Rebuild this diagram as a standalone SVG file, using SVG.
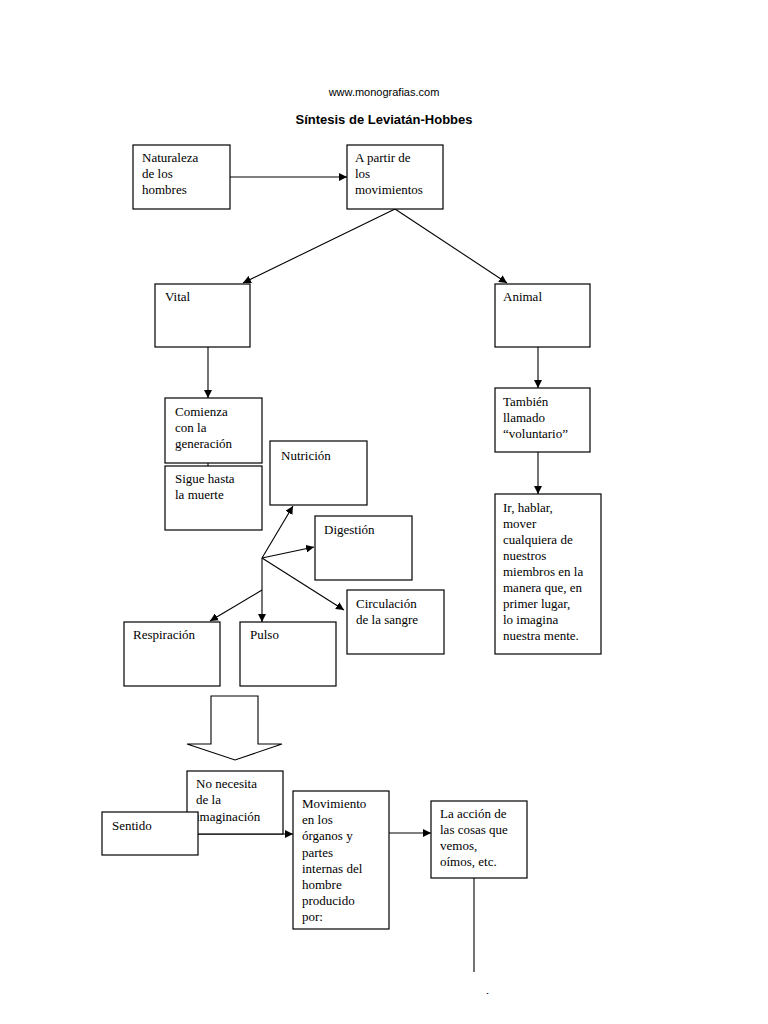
<svg xmlns="http://www.w3.org/2000/svg" width="768" height="1024" viewBox="0 0 768 1024">
<style>
.b{fill:#fff;stroke:#000;stroke-width:1.2}
.t{font-family:"Liberation Serif",serif;font-size:13px;fill:#000}
.c line,.c path{stroke:#000;stroke-width:1.1;fill:none}
</style>
<defs>
<marker id="a" viewBox="0 0 10 10" refX="10" refY="5" markerWidth="8" markerHeight="8" orient="auto" markerUnits="userSpaceOnUse"><path d="M0,0L10,5L0,10z" fill="#000"/></marker>
<clipPath id="cut"><rect x="0" y="0" width="768" height="994"/></clipPath>
</defs>
<rect width="768" height="1024" fill="#fff"/>
<text x="384" y="96" text-anchor="middle" font-family="Liberation Sans,sans-serif" font-size="11">www.monografias.com</text>
<text x="384" y="124" text-anchor="middle" font-family="Liberation Sans,sans-serif" font-size="13" font-weight="bold">Síntesis de Leviatán-Hobbes</text>
<g class="c">
<line x1="230" y1="177" x2="347" y2="177" marker-end="url(#a)"/>
<line x1="395" y1="209" x2="243" y2="283" marker-end="url(#a)"/>
<line x1="395" y1="209" x2="507" y2="283" marker-end="url(#a)"/>
<line x1="208" y1="347" x2="208" y2="398" marker-end="url(#a)"/>
<line x1="208" y1="463" x2="208" y2="466"/>
<line x1="262" y1="558" x2="293" y2="506" marker-end="url(#a)"/>
<line x1="262" y1="558" x2="314" y2="547" marker-end="url(#a)"/>
<line x1="262" y1="558" x2="344" y2="610" marker-end="url(#a)"/>
<line x1="262" y1="558" x2="262" y2="622" marker-end="url(#a)"/>
<line x1="262" y1="590" x2="210" y2="621" marker-end="url(#a)"/>
<line x1="538" y1="347" x2="538" y2="388" marker-end="url(#a)"/>
<line x1="538" y1="452" x2="538" y2="494" marker-end="url(#a)"/>
<line x1="198" y1="834" x2="293" y2="834" marker-end="url(#a)"/>
<line x1="389" y1="833" x2="431" y2="833" marker-end="url(#a)"/>
<line x1="474" y1="878" x2="474" y2="972"/>
<path d="M211,696H258V744H282L235,760L187,744H211Z" style="fill:#fff"/>
</g>
<g id="n1"><rect class="b" x="133" y="145" width="97" height="64"/><text class="t" x="142" y="162">Naturaleza</text><text class="t" x="142" y="178">de los</text><text class="t" x="142" y="194">hombres</text></g>
<g id="n2"><rect class="b" x="347" y="145" width="96" height="64"/><text class="t" x="355" y="162">A partir de</text><text class="t" x="355" y="178">los</text><text class="t" x="355" y="194">movimientos</text></g>
<g id="n3"><rect class="b" x="155" y="284" width="95" height="63"/><text class="t" x="165" y="301">Vital</text></g>
<g id="n4"><rect class="b" x="495" y="284" width="95" height="63"/><text class="t" x="503" y="301">Animal</text></g>
<g id="n5"><rect class="b" x="165" y="398" width="97" height="65"/><text class="t" x="175" y="416">Comienza</text><text class="t" x="175" y="432">con la</text><text class="t" x="175" y="448">generación</text></g>
<g id="n6"><rect class="b" x="165" y="466" width="97" height="64"/><text class="t" x="175" y="483">Sigue hasta</text><text class="t" x="175" y="499">la muerte</text></g>
<g id="n7"><rect class="b" x="270" y="441" width="97" height="64"/><text class="t" x="281" y="460">Nutrición</text></g>
<g id="n8"><rect class="b" x="315" y="516" width="97" height="64"/><text class="t" x="324" y="534">Digestión</text></g>
<g id="n9"><rect class="b" x="347" y="590" width="97" height="64"/><text class="t" x="356" y="608">Circulación</text><text class="t" x="356" y="624">de la sangre</text></g>
<g id="n10"><rect class="b" x="124" y="622" width="96" height="64"/><text class="t" x="133" y="639">Respiración</text></g>
<g id="n11"><rect class="b" x="240" y="622" width="96" height="64"/><text class="t" x="250" y="639">Pulso</text></g>
<g id="n12"><rect class="b" x="495" y="388" width="95" height="64"/><text class="t" x="503" y="406">También</text><text class="t" x="503" y="422">llamado</text><text class="t" x="503" y="438">“voluntario”</text></g>
<g id="n13"><rect class="b" x="495" y="494" width="106" height="160"/><text class="t" x="503" y="512">Ir, hablar,</text><text class="t" x="503" y="528">mover</text><text class="t" x="503" y="544">cualquiera de</text><text class="t" x="503" y="560">nuestros</text><text class="t" x="503" y="576">miembros en la</text><text class="t" x="503" y="592">manera que, en</text><text class="t" x="503" y="608">primer lugar,</text><text class="t" x="503" y="624">lo imagina</text><text class="t" x="503" y="640">nuestra mente.</text></g>
<g id="n14"><rect class="b" x="187" y="771" width="96" height="63"/><text class="t" x="196" y="788">No necesita</text><text class="t" x="196" y="804">de la</text><text class="t" x="196" y="821">imaginación</text></g>
<g id="n15"><rect class="b" x="102" y="812" width="96" height="43"/><text class="t" x="112" y="830">Sentido</text></g>
<g id="n16"><rect class="b" x="293" y="791" width="96" height="138"/><text class="t" x="302" y="808">Movimiento</text><text class="t" x="302" y="824">en los</text><text class="t" x="302" y="840">órganos  y</text><text class="t" x="302" y="857">partes</text><text class="t" x="302" y="873">internas del</text><text class="t" x="302" y="889">hombre</text><text class="t" x="302" y="905">producido</text><text class="t" x="302" y="921">por:</text></g>
<g id="n17"><rect class="b" x="431" y="801" width="96" height="77"/><text class="t" x="440" y="818">La acción de</text><text class="t" x="440" y="834">las cosas que</text><text class="t" x="440" y="850">vemos,</text><text class="t" x="440" y="866">oímos, etc.</text></g>
<g clip-path="url(#cut)"><text class="t" x="228" y="1002">Memoria y</text><text class="t" x="451" y="1002">Fantasía y</text></g>
</svg>
